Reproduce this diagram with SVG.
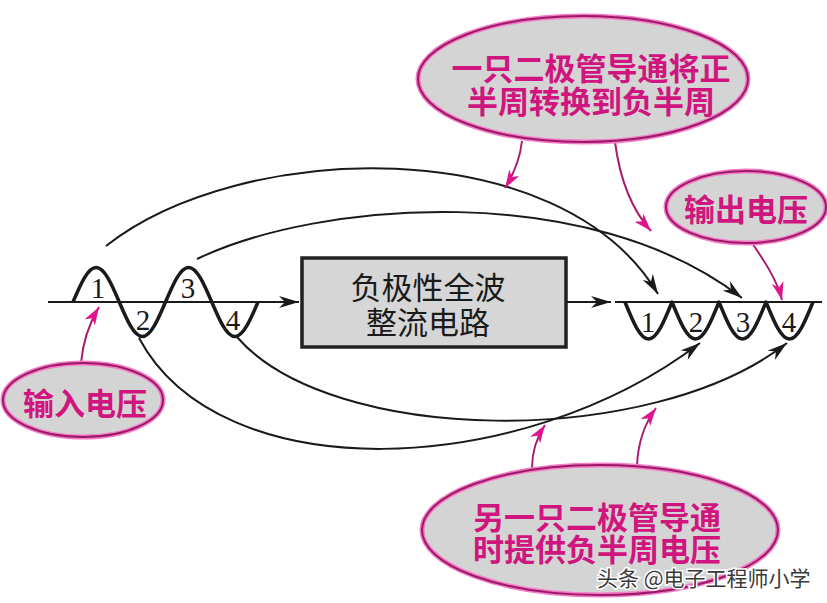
<svg xmlns="http://www.w3.org/2000/svg" width="827" height="603" viewBox="0 0 827 603">
<style>
.wave{fill:none;stroke:#1a1a1a;stroke-width:3.5;stroke-linejoin:round}
.base{fill:none;stroke:#1a1a1a;stroke-width:2}
.conn{fill:none;stroke:#1a1a1a;stroke-width:2}
.pk{fill:none;stroke:#a81c72;stroke-width:2}
.num{font-family:"Liberation Serif",serif;font-size:29px;fill:#1a1a1a;text-anchor:middle}
.box{fill:#d6d6d6;stroke:#222;stroke-width:3.5}
.boxt{font-family:"Noto Sans CJK SC",sans-serif;font-size:31px;fill:#1a1a1a;text-anchor:middle}
.glow{fill:#d4d4d4;stroke:#f57ac8;stroke-width:5}
.ell{fill:none;stroke:#9a1a66;stroke-width:2}
.lab{font-family:"Noto Sans CJK SC",sans-serif;font-weight:bold;font-size:31px;fill:#d0167e;text-anchor:middle}
.wm{font-family:"Noto Sans CJK SC",sans-serif;font-size:21px;fill:#3a3a3a;stroke:#ffffff;stroke-width:3;paint-order:stroke}
</style>
<defs>
<marker id="ab" viewBox="0 0 20 12" refX="20" refY="6" markerWidth="20" markerHeight="12" orient="auto" markerUnits="userSpaceOnUse"><path d="M0,0 L20,6 L0,12 L6,6 z" fill="#1a1a1a"/></marker>
<marker id="ap" viewBox="0 0 18 12" refX="18" refY="6" markerWidth="18" markerHeight="12" orient="auto" markerUnits="userSpaceOnUse"><path d="M0,0 L18,6 L0,12 L5,6 z" fill="#e0148c"/></marker>
</defs>

<g id="input-wave">
<line class="base" x1="48" y1="302" x2="299" y2="302" marker-end="url(#ab)"/>
<path class="wave" d="M73,302 C80.54,284.33 87.76,267.5 96.13,267.5 C104.49,267.5 111.71,284.33 119.25,302 C126.79,319.67 134.01,336.5 142.38,336.5 C150.74,336.5 157.96,319.67 165.5,302 C173.04,284.33 180.26,267.5 188.63,267.5 C196.99,267.5 204.21,284.33 211.75,302 C219.29,319.67 226.51,336.5 234.88,336.5 C243.24,336.5 250.46,319.67 258,302"/>
<text class="num" x="98" y="298">1</text>
<text class="num" x="143" y="330">2</text>
<text class="num" x="188" y="298">3</text>
<text class="num" x="233" y="330">4</text>
</g>

<g id="rectifier">
<rect class="box" x="302" y="258" width="264" height="89"/>
<text class="boxt" x="428" y="299">负极性全波</text>
<text class="boxt" x="428" y="334">整流电路</text>
</g>

<g id="output-wave">
<line class="base" x1="567" y1="302" x2="611" y2="302" marker-end="url(#ab)"/>
<line class="base" x1="615" y1="302" x2="822" y2="302"/>
<path class="wave" d="M625,302 C632.66,320.96 640,339 648.5,339 C657,339 664.34,320.96 672,302 C679.66,320.96 687,339 695.5,339 C704,339 711.34,320.96 719,302 C726.66,320.96 734,339 742.5,339 C751,339 758.34,320.96 766,302 C773.66,320.96 781,339 789.5,339 C798,339 805.34,320.96 813,302"/>
<text class="num" x="648" y="332">1</text>
<text class="num" x="696" y="332">2</text>
<text class="num" x="743" y="332">3</text>
<text class="num" x="789" y="332">4</text>
</g>

<g id="connectors">
<path class="conn" d="M106,246 C240,140 560,130 658,294" marker-end="url(#ab)"/>
<path class="conn" d="M197,259 C320,200 590,180 742,298" marker-end="url(#ab)"/>
<path class="conn" d="M139,338 C220,490 520,480 700,343" marker-end="url(#ab)"/>
<path class="conn" d="M237,337 C330,445 650,450 787,343" marker-end="url(#ab)"/>
<path class="pk" d="M81,363 C83,340 90,322 99,307" marker-end="url(#ap)"/>
<path class="pk" d="M522,141 C520,160 513,175 505,188" marker-end="url(#ap)"/>
<path class="pk" d="M615,142 C620,180 632,210 651,231" marker-end="url(#ap)"/>
<path class="pk" d="M752,243 C765,262 777,280 782,300" marker-end="url(#ap)"/>
<path class="pk" d="M532,468 C532,450 537,437 545,425" marker-end="url(#ap)"/>
<path class="pk" d="M637,466 C638,440 645,423 656,408" marker-end="url(#ap)"/>
</g>

<g id="note-top">
<ellipse class="glow" cx="583" cy="79" rx="165" ry="63"/>
<ellipse class="ell" cx="583" cy="79" rx="165" ry="63"/>
<text class="lab" x="591" y="80">一只二极管导通将正</text>
<text class="lab" x="591" y="113">半周转换到负半周</text>
</g>

<g id="note-output">
<ellipse class="glow" cx="746" cy="207" rx="80" ry="36"/>
<ellipse class="ell" cx="746" cy="207" rx="80" ry="36"/>
<text class="lab" x="746" y="221">输出电压</text>
</g>

<g id="note-input">
<ellipse class="glow" cx="83" cy="400" rx="80" ry="37"/>
<ellipse class="ell" cx="83" cy="400" rx="80" ry="37"/>
<text class="lab" x="85" y="415">输入电压</text>
</g>

<g id="note-bottom">
<ellipse class="glow" cx="600" cy="530" rx="178" ry="65"/>
<ellipse class="ell" cx="600" cy="530" rx="178" ry="65"/>
<text class="lab" x="597" y="529">另一只二极管导通</text>
<text class="lab" x="597" y="561">时提供负半周电压</text>
</g>

<text class="wm" x="597" y="586">头条 @电子工程师小学</text>
</svg>
